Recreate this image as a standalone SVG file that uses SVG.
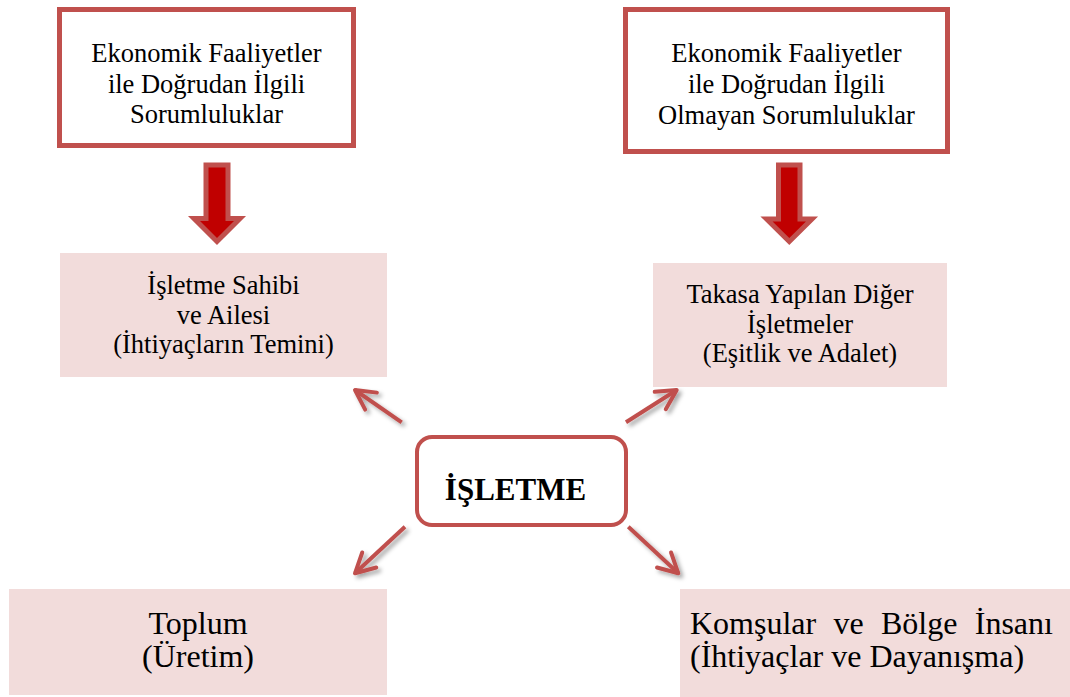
<svg xmlns="http://www.w3.org/2000/svg" width="1070" height="697" viewBox="0 0 1070 697">
<style>
  .m { font-size: 26.5px; text-anchor: middle; }
  .b { font-size: 32px; }
  .frame { fill: #fff; stroke: #c0504d; stroke-width: 5; }
  .light { fill: #f2dcdb; }
  .blk { fill: #c00000; stroke: #c0504d; stroke-width: 5; stroke-linejoin: miter; }
  .conn { fill: none; stroke: #c0504d; stroke-width: 4; marker-end: url(#vhead); filter: url(#sh); }
</style>
<defs>
  <marker id="vhead" markerUnits="userSpaceOnUse" viewBox="-25 -15 30 30" refX="0" refY="0" markerWidth="30" markerHeight="30" orient="auto">
    <path d="M-19.5,-10.3 L0,0 L-19.5,10.3" fill="none" stroke="#c0504d" stroke-width="4" stroke-linecap="round" stroke-linejoin="round"/>
  </marker>
  <filter id="sh" x="-30%" y="-30%" width="160%" height="160%">
    <feDropShadow dx="3" dy="3" stdDeviation="2" flood-color="#000" flood-opacity="0.35"/>
  </filter>
</defs>
<rect width="1070" height="697" fill="#fff"/>

<g font-family="Liberation Serif, DejaVu Serif, serif" fill="#000">
<g id="top-left">
  <rect class="frame" x="59.5" y="9.5" width="294" height="136"/>
  <text class="m" x="206.5" y="62">Ekonomik Faaliyetler</text>
  <text class="m" x="206.5" y="93">ile Doğrudan İlgili</text>
  <text class="m" x="206.5" y="123">Sorumluluklar</text>
</g>

<g id="top-right">
  <rect class="frame" x="625.5" y="9.5" width="322" height="142"/>
  <text class="m" x="786.5" y="62">Ekonomik Faaliyetler</text>
  <text class="m" x="786.5" y="93">ile Doğrudan İlgili</text>
  <text class="m" x="786.5" y="124">Olmayan Sorumluluklar</text>
</g>

<g id="mid-left">
  <rect class="light" x="60" y="253" width="327" height="124"/>
  <text class="m" x="223.5" y="294">İşletme Sahibi</text>
  <text class="m" x="223.5" y="323.5">ve Ailesi</text>
  <text class="m" x="223.5" y="353">(İhtiyaçların Temini)</text>
</g>

<g id="mid-right">
  <rect class="light" x="653" y="263" width="294" height="124"/>
  <text class="m" x="800" y="303">Takasa Yapılan Diğer</text>
  <text class="m" x="800" y="333">İşletmeler</text>
  <text class="m" x="800" y="362">(Eşitlik ve Adalet)</text>
</g>

<g id="isletme">
  <rect x="417" y="437" width="209" height="88" rx="15" fill="#fff" stroke="#c0504d" stroke-width="4"/>
  <text x="515.5" y="500" font-size="31" font-weight="bold" text-anchor="middle">İŞLETME</text>
</g>

<g id="bottom-left">
  <rect class="light" x="9" y="589" width="378" height="106"/>
  <text class="b" x="198" y="634" text-anchor="middle">Toplum</text>
  <text class="b" x="198" y="667" text-anchor="middle">(Üretim)</text>
</g>

<g id="bottom-right">
  <rect class="light" x="680" y="589" width="395" height="112"/>
  <text class="b" x="690" y="634" word-spacing="9.3">Komşular ve Bölge İnsanı</text>
  <text class="b" x="690" y="667">(İhtiyaçlar ve Dayanışma)</text>
</g>
</g>

<g id="connectors">
  <polygon class="blk" points="206,165 228,165 228,218.5 240,218.5 217,241.5 194,218.5 206,218.5"/>
  <polygon class="blk" points="778.5,165 800,165 800,219 812,219 789.3,241.5 766.5,219 778.5,219"/>
  <line class="conn" x1="401.7" y1="422.3" x2="355" y2="390"/>
  <line class="conn" x1="626" y1="422.3" x2="676.7" y2="390"/>
  <line class="conn" x1="405" y1="526.7" x2="355" y2="573.3"/>
  <line class="conn" x1="628.3" y1="526.7" x2="678.3" y2="573.3"/>
</g>
</svg>
